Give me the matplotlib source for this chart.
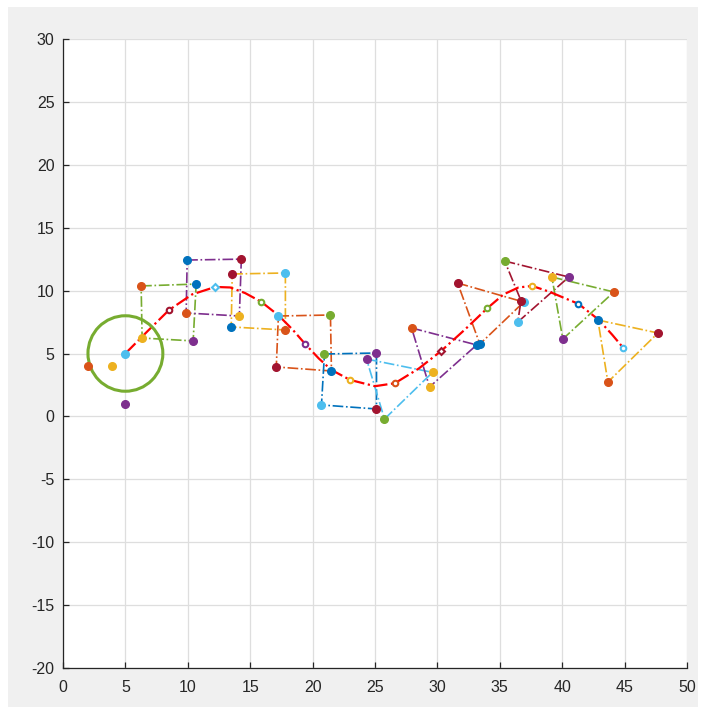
import matplotlib
matplotlib.use("Agg")
import matplotlib.pyplot as plt
from matplotlib.patches import Circle, Rectangle

# MATLAB default colour order
BLUE = "#0072BD"
ORANGE = "#D95319"
YELLOW = "#EDB120"
PURPLE = "#7E2F8E"
GREEN = "#77AC30"
LBLUE = "#4DBEEE"
DRED = "#A2142F"

# Reference path of the formation centre
ref_x = [5.0, 6.8, 8.5, 10.35, 12.2, 13.4, 14.6, 15.9, 17.3, 18.4, 19.4, 20.5, 21.5,
         23.0, 25.0, 26.6, 28.5, 30.3, 32.2, 34.0, 35.3, 36.5, 37.6, 39.0, 40.2,
         41.3, 42.9, 44.0, 44.9]
ref_y = [5.0, 6.8, 8.46, 9.7, 10.29, 10.25, 9.8, 9.1, 8.0, 6.9, 5.76, 4.6, 3.7,
         2.9, 2.4, 2.64, 3.8, 5.2, 6.9, 8.6, 9.7, 10.25, 10.37, 9.9, 9.4,
         8.95, 7.7, 6.5, 5.44]

# Markers placed along the reference path
path_mk_x = [8.5, 12.2, 15.9, 19.4, 23.0, 26.6, 30.3, 34.0, 37.6, 41.3, 44.9]
path_mk_y = [8.46, 10.29, 9.1, 5.76, 2.9, 2.64, 5.2, 8.6, 10.37, 8.95, 5.44]
path_mk_c = [DRED, LBLUE, GREEN, PURPLE, YELLOW, ORANGE, DRED, GREEN, YELLOW, BLUE, LBLUE]
path_mk_s = ["o", "D", "o", "o", "o", "o", "D", "o", "o", "o", "o"]

# Initial agent positions
start_x = [2.0, 3.93, 5.0, 4.98]
start_y = [4.0, 4.0, 5.0, 0.99]
start_c = [ORANGE, YELLOW, LBLUE, PURPLE]

# Formation snapshots: vertex coordinates, vertex colours, edge colour
f1_x = [6.26, 10.67, 10.43, 6.34]
f1_y = [10.37, 10.52, 6.0, 6.23]
f1_c = [ORANGE, BLUE, PURPLE, YELLOW]

f2_x = [9.95, 14.29, 14.13, 9.87]
f2_y = [12.43, 12.5, 7.98, 8.22]
f2_c = [BLUE, DRED, YELLOW, ORANGE]

f3_x = [13.56, 17.82, 17.82, 13.48]
f3_y = [11.32, 11.40, 6.87, 7.11]
f3_c = [DRED, LBLUE, ORANGE, BLUE]

f4_x = [17.26, 21.43, 21.51, 17.09]
f4_y = [7.98, 8.06, 3.61, 3.93]
f4_c = [LBLUE, GREEN, BLUE, DRED]

f5_x = [20.95, 25.12, 25.12, 20.71]
f5_y = [4.96, 5.04, 0.59, 0.91]
f5_c = [GREEN, PURPLE, DRED, LBLUE]

f6_x = [24.32, 29.61, 25.76]
f6_y = [4.56, 3.5, -0.21]
f6_c = [PURPLE, YELLOW, GREEN]

f7_x = [27.93, 33.15, 29.37]
f7_y = [7.03, 5.68, 2.34]
f7_c = [ORANGE, BLUE, YELLOW]

f8_x = [31.62, 36.92, 33.4]
f8_y = [10.60, 9.09, 5.75]
f8_c = [DRED, LBLUE, BLUE]

f9_x = [35.39, 40.53, 36.44, 36.7]
f9_y = [12.35, 11.08, 7.50, 9.2]
f9_c = [GREEN, PURPLE, LBLUE, DRED]

f10_x = [39.17, 44.14, 40.05]
f10_y = [11.08, 9.89, 6.15]
f10_c = [YELLOW, ORANGE, PURPLE]

f11_x = [42.86, 47.67, 43.66]
f11_y = [7.66, 6.63, 2.73]
f11_c = [BLUE, DRED, ORANGE]

formations = [
    (f1_x, f1_y, f1_c, GREEN),
    (f2_x, f2_y, f2_c, PURPLE),
    (f3_x, f3_y, f3_c, YELLOW),
    (f4_x, f4_y, f4_c, ORANGE),
    (f5_x, f5_y, f5_c, BLUE),
    (f6_x, f6_y, f6_c, LBLUE),
    (f7_x, f7_y, f7_c, PURPLE),
    (f8_x, f8_y, f8_c, ORANGE),
    (f9_x, f9_y, f9_c, DRED),
    (f10_x, f10_y, f10_c, GREEN),
    (f11_x, f11_y, f11_c, YELLOW),
]

# Starting region
circle_center = (5.0, 5.0)
circle_radius = 3.0

x_ticks = list(range(0, 51, 5))
y_ticks = list(range(-20, 31, 5))

plt.rcParams["font.family"] = ["Liberation Sans", "DejaVu Sans"]
plt.rcParams["axes.unicode_minus"] = False

fig = plt.figure(figsize=(7.04, 7.13), dpi=100, facecolor="white")
# grey window background with a thin white frame
fig.patches.append(Rectangle((8 / 704, 6 / 713), 690 / 704, 700 / 713,
                             transform=fig.transFigure, facecolor="#f0f0f0",
                             edgecolor="none", zorder=-10))

ax = fig.add_axes([63 / 704, 45 / 713, 624 / 704, 629 / 713])
ax.set_facecolor("white")

for fx, fy, fc, lc in formations:
    ax.plot(fx + fx[:1], fy + fy[:1], linestyle="-.", color=lc, lw=1.2, zorder=2)

ax.plot(ref_x, ref_y, linestyle="-.", color="#FF0000", lw=1.6, zorder=3)

for fx, fy, fc, lc in formations:
    for x, y, c in zip(fx, fy, fc):
        ax.plot(x, y, "o", ms=5.5, color=c, mec=c, zorder=4)

for x, y, c, m in zip(path_mk_x, path_mk_y, path_mk_c, path_mk_s):
    ax.plot(x, y, m, ms=4 if m == "o" else 3.5, mfc="white", mec=c, mew=1.5, zorder=5)

for x, y, c in zip(start_x, start_y, start_c):
    ax.plot(x, y, "o", ms=5.5, color=c, zorder=4)

ax.add_patch(Circle(circle_center, circle_radius, fill=False, edgecolor=GREEN, lw=2.2, zorder=3))

ax.set_xlim(0, 50)
ax.set_ylim(-20, 30)
ax.set_xticks(x_ticks)
ax.set_yticks(y_ticks)
ax.grid(True, color="#dedede", lw=0.9)
ax.set_axisbelow(True)
for side in ("top", "right"):
    ax.spines[side].set_visible(False)
for side in ("left", "bottom"):
    ax.spines[side].set_color("#262626")
    ax.spines[side].set_linewidth(0.9)
ax.tick_params(direction="in", length=4, width=0.9, colors="#262626",
               labelsize=11.5)
ax.tick_params(axis="x", pad=9)
ax.tick_params(axis="y", pad=6)

fig.savefig("out.png", dpi=100, facecolor=fig.get_facecolor())
